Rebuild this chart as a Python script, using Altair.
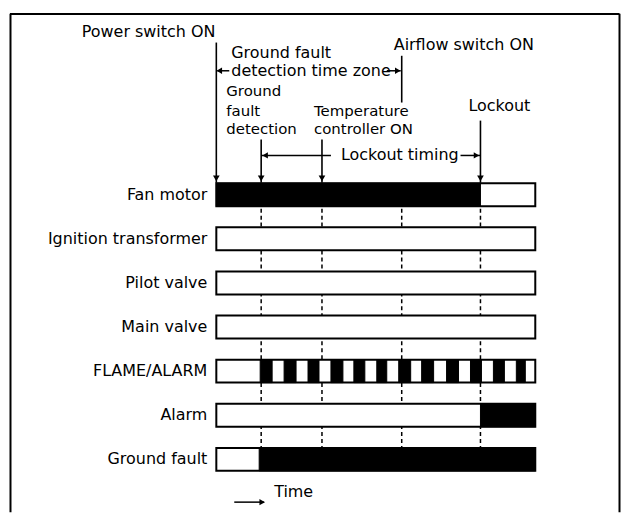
import altair as alt
import pandas as pd

# ---------------- data ----------------
rows = ["Fan motor", "Ignition transformer", "Pilot valve", "Main valve",
        "FLAME/ALARM", "Alarm", "Ground fault"]
t_start = 0
t_end = 320
# event times (same time unit as bars)
event_names = ["power", "gf_detect", "temp_on", "airflow_on", "lockout"]
event_times = [0, 45, 106, 186, 265]

# black ("on") intervals per row: start list, end list
on_row = ["Fan motor", "Alarm", "Ground fault"]
on_start = [0, 265, 43]
on_end = [265, 320, 320]
flame_on_start = [44, 68, 92, 115, 138, 161, 183, 206, 231, 255, 278, 301]
flame_on_end = [56, 80, 103, 127, 149, 171, 195, 218, 243, 266, 289, 310]

# annotation texts (text, time, lane, font size)
ann_text = ["Power switch ON", "Ground fault", "detection time zone", "Airflow switch ON",
            "Ground", "fault", "detection", "Temperature", "controller ON",
            "Lockout", "Lockout timing", "Time"]
ann_t = [-135, 15, 15, 178, 10, 10, 10, 98, 98, 253, 125, 58]
ann_lane = [-3.68, -3.22, -2.81, -3.40, -2.34, -1.90, -1.48, -1.90, -1.48, -2.02, -0.89, 6.73]
ann_size = [16, 16, 16, 16, 15, 15, 15, 15, 15, 16, 16, 16]

# ---------------- layout helpers ----------------
ROW_PX = 44.25
FIRST_ROW_PX = 181.5      # first row centre below frame top
VIEW_H = 500
VIEW_W = 613
BAR_HALF = 0.26
LABEL_T = -9
LANE_TOP = -FIRST_ROW_PX / ROW_PX
LANE_BOTTOM = (VIEW_H - FIRST_ROW_PX) / ROW_PX
T_LEFT, T_RIGHT = -207, 406

xs = alt.Scale(domain=[T_LEFT, T_RIGHT], nice=False, zero=False)
ys = alt.Scale(domain=[LANE_TOP, LANE_BOTTOM], reverse=True, nice=False, zero=False)

lane_of = {r: i for i, r in enumerate(rows)}

outline_df = pd.DataFrame({
    "row": rows,
    "t0": [t_start] * len(rows),
    "t1": [t_end] * len(rows),
})
outline_df["lane"] = outline_df["row"].map(lane_of)
outline_df["y0"] = outline_df["lane"] - BAR_HALF
outline_df["y1"] = outline_df["lane"] + BAR_HALF
outline_df["tl"] = LABEL_T

black_df = pd.DataFrame({
    "row": on_row + ["FLAME/ALARM"] * len(flame_on_start),
    "t0": on_start + flame_on_start,
    "t1": on_end + flame_on_end,
})
black_df["y0"] = black_df["row"].map(lane_of) - BAR_HALF
black_df["y1"] = black_df["row"].map(lane_of) + BAR_HALF


def X(f):
    return alt.X(f, scale=xs, axis=None)


def Y(f):
    return alt.Y(f, scale=ys, axis=None)


# frame (top, left, right) - open at the bottom
frame_df = pd.DataFrame({
    "t0": [T_LEFT, T_LEFT + 0.5, T_RIGHT - 1.5],
    "t1": [T_RIGHT - 1.5, T_LEFT + 0.5, T_RIGHT - 1.5],
    "y0": [LANE_TOP + 0.005, LANE_TOP, LANE_TOP],
    "y1": [LANE_TOP + 0.005, LANE_BOTTOM, LANE_BOTTOM],
})
frame = alt.Chart(frame_df).mark_rule(color="black", strokeWidth=2).encode(
    x=X("t0:Q"), x2="t1:Q", y=Y("y0:Q"), y2="y1:Q")

# dashed guide lines
dash_df = pd.DataFrame({"t": event_times[1:], "y0": [0.0] * 4, "y1": [6.0] * 4})
dashes = alt.Chart(dash_df).mark_rule(color="black", strokeWidth=1.5, strokeDash=[4, 3]).encode(
    x=X("t:Q"), y=Y("y0:Q"), y2="y1:Q")

# vertical event lines coming down from the annotations
vline_df = pd.DataFrame({
    "t": [event_times[0], event_times[1], event_times[2], event_times[4], event_times[3]],
    "y0": [-3.45, -1.25, -1.25, -1.68, -3.15],
    "y1": [-0.27, -0.27, -0.27, -0.27, -2.09],
})
vlines = alt.Chart(vline_df).mark_rule(color="black", strokeWidth=1.6).encode(
    x=X("t:Q"), y=Y("y0:Q"), y2="y1:Q")
vhead_df = pd.DataFrame({"t": [event_times[0], event_times[1], event_times[2], event_times[4]],
                         "y": [-0.37] * 4})
vheads = alt.Chart(vhead_df).mark_point(shape="triangle-down", filled=True, color="black",
                                        size=45, opacity=1).encode(x=X("t:Q"), y=Y("y:Q"))

# horizontal arrows
hline_df = pd.DataFrame({
    "t0": [1, 171, 45, 245, 18],
    "t1": [13, 185, 115, 265, 48],
    "y": [-2.81, -2.81, -0.89, -0.89, 6.97],
})
hlines = alt.Chart(hline_df).mark_rule(color="black", strokeWidth=1.5).encode(
    x=X("t0:Q"), x2="t1:Q", y=Y("y:Q"))
left_df = pd.DataFrame({"t": [3, 49], "y": [-2.81, -0.89]})
right_df = pd.DataFrame({"t": [182, 261, 46], "y": [-2.81, -0.89, 6.97]})
lheads = alt.Chart(left_df).mark_point(shape="triangle-left", filled=True, color="black",
                                       size=40, opacity=1).encode(x=X("t:Q"), y=Y("y:Q"))
rheads = alt.Chart(right_df).mark_point(shape="triangle-right", filled=True, color="black",
                                        size=40, opacity=1).encode(x=X("t:Q"), y=Y("y:Q"))

# bars
outlines = alt.Chart(outline_df).mark_rect(fill="white", stroke="black", strokeWidth=2).encode(
    x=X("t0:Q"), x2="t1:Q", y=Y("y0:Q"), y2="y1:Q")
blacks = alt.Chart(black_df).mark_rect(fill="black", stroke="black", strokeWidth=1).encode(
    x=X("t0:Q"), x2="t1:Q", y=Y("y0:Q"), y2="y1:Q")

# row labels
labels = alt.Chart(outline_df).mark_text(align="right", baseline="middle", font="DejaVu Sans",
                                         fontSize=16, color="black").encode(
    x=X("tl:Q"), y=Y("lane:Q"), text="row:N")

ann_df = pd.DataFrame({"text": ann_text, "t": ann_t, "lane": ann_lane, "size": ann_size})
anns = alt.Chart(ann_df).mark_text(align="left", baseline="middle", font="DejaVu Sans",
                                   color="black").encode(
    x=X("t:Q"), y=Y("lane:Q"), text="text:N",
    size=alt.Size("size:Q", scale=None, legend=None))

chart = alt.layer(frame, dashes, vlines, vheads, hlines, lheads, rheads,
                  outlines, blacks, labels, anns).properties(
    width=VIEW_W, height=VIEW_H,
    autosize=alt.AutoSizeParams(type="none"),
    padding={"left": 2, "top": 5, "right": 0, "bottom": 0},
    background="white",
).configure_view(stroke=None)

chart.save("out.html", embed_options={"renderer": "svg", "actions": False})
